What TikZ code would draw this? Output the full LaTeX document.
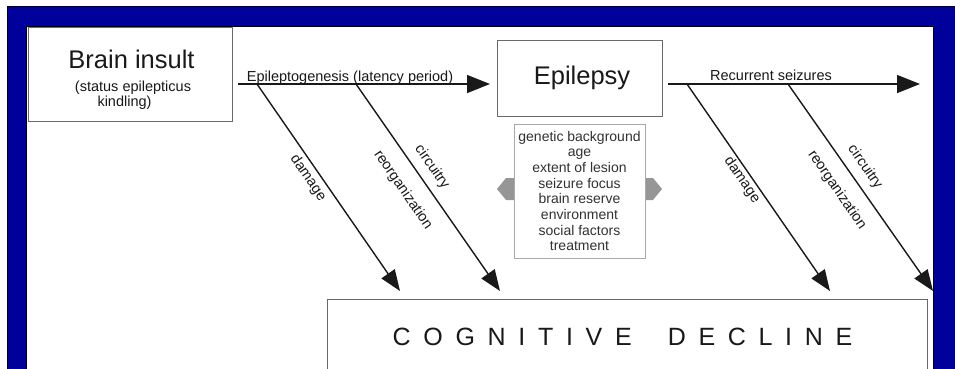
\documentclass[tikz,border=0pt]{standalone}
\usepackage{fontspec}
\setmainfont{Liberation Sans}
\usetikzlibrary{arrows.meta}
\definecolor{frameblue}{RGB}{0,0,155}
\definecolor{ink}{RGB}{25,25,25}
\definecolor{boxgray}{RGB}{105,105,105}
\definecolor{lightbox}{RGB}{170,170,170}
\definecolor{arrowgray}{RGB}{150,150,150}
\definecolor{factink}{RGB}{50,50,50}
\begin{document}
\begin{tikzpicture}[x=1pt,y=-1pt,
  box/.style={draw=boxgray, line width=1pt, fill=white, inner sep=0pt},
  flow/.style={draw=ink, line width=1.5pt, -{Triangle[length=23pt,width=18pt]}},
  diag/.style={draw=ink, line width=1.4pt, -{Triangle[length=21pt,width=16pt]}},
  lab/.style={font=\fontsize{14.5}{17}\selectfont, text=ink, inner sep=0pt},
  big/.style={font=\fontsize{25.5}{30}\selectfont, text=ink, inner sep=0pt},
  rot/.style={lab, rotate=-55.4}
  ]
\useasboundingbox (0,0) rectangle (955,368);
\clip (0,0) rectangle (955,368);
\fill[white] (0,0) rectangle (955,368);
% frame
\draw[black, fill=frameblue, line width=1.2pt] (7.5,6.5) rectangle (1000,500);
\draw[black, fill=white, line width=1pt] (26,26) rectangle (933,500);

% boxes
\node[box, minimum width=204pt, minimum height=94pt] (bi) at (130,74) {};
\node[big, anchor=base] (bit) at (131.5,68) {Brain insult};
\node[lab, anchor=base] (bis1) at (133,91) {(status epilepticus};
\node[lab, anchor=base] (bis2) at (124.5,106.5) {kindling)};

\node[box, minimum width=165pt, minimum height=76pt] (ep) at (579.5,78) {};
\node[big, anchor=base] (ept) at (582,84) {Epilepsy};

% grey arrows behind factor box
\fill[arrowgray] (497,189) -- (506,178) -- (516,178) -- (516,200) -- (506,200) -- cycle;
\fill[arrowgray] (662,189) -- (653,178) -- (643,178) -- (643,200) -- (653,200) -- cycle;
\node[box, draw=lightbox, minimum width=131pt, minimum height=134pt, align=center,
  font=\fontsize{14}{15.7}\selectfont, text=factink] (fac) at (579.5,191)
  {genetic background\\age\\extent of lesion\\seizure focus\\brain reserve\\environment\\social factors\\treatment};

\node[box, minimum width=600pt, minimum height=140pt] (cd) at (627,369) {};
\node[big, anchor=base, font=\fontsize{25}{30}\selectfont\addfontfeature{LetterSpace=23}] (cdt) at (622.5,345)
  {C O G N I T I V E\hspace{36pt}D E C L I N E};

% horizontal connectors
\coordinate (e1s) at (238,84); \coordinate (e1e) at (490,84);
\coordinate (e2s) at (668,84); \coordinate (e2e) at (920,84);
\draw[flow] (e1s) -- (e1e);
\draw[flow] (e2s) -- (e2e);
\node[lab, anchor=base] (epg) at (350,81.5) {Epileptogenesis (latency period)};
\node[lab, anchor=base] (rec) at (771,80.5) {Recurrent seizures};

% diagonal connectors
\coordinate (d1s) at (257,84); \coordinate (d1e) at (400,291);
\coordinate (d2s) at (356,84); \coordinate (d2e) at (500,291);
\coordinate (d3s) at (687,84); \coordinate (d3e) at (830,291);
\coordinate (d4s) at (788,84); \coordinate (d4e) at (933,291);
\draw[diag] (d1s) -- (d1e);
\draw[diag] (d2s) -- (d2e);
\draw[diag] (d3s) -- (d3e);
\draw[diag] (d4s) -- (d4e);

\node[rot] (l1) at (308,178) {damage};
\node[rot] (l2) at (403,190) {reorganization};
\node[rot] (l3) at (432,167) {circuitry};
\node[rot] (l4) at (742,180) {damage};
\node[rot] (l5) at (837,190) {reorganization};
\node[rot] (l6) at (865,167) {circuitry};
\end{tikzpicture}
\end{document}
